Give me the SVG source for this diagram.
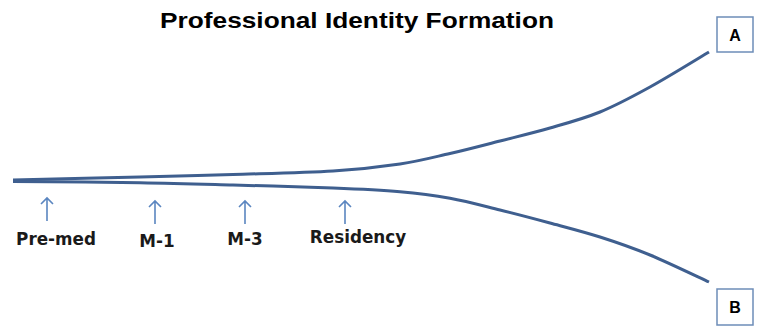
<svg xmlns="http://www.w3.org/2000/svg" width="759" height="327" viewBox="0 0 759 327">
<style>
.curve{fill:none;stroke:#3f5f8f;stroke-width:3;stroke-linecap:butt}
.arr{fill:none;stroke:#5b86c0;stroke-width:1.6}
.lbl{font-family:"DejaVu Sans",sans-serif;font-weight:bold;font-size:16.8px;fill:#1a1a1a;text-anchor:middle}
.box{fill:#fff;stroke:#6d8db8;stroke-width:1.5}
.bl{font-family:"Liberation Sans",Arial,sans-serif;font-weight:bold;font-size:16px;fill:#000;text-anchor:middle}
.title{font-family:"Liberation Sans",Arial,sans-serif;font-weight:bold;font-size:22.5px;fill:#000;text-anchor:middle}
</style>
<rect width="759" height="327" fill="#fff"/>
<text class="title" x="357" y="28" textLength="394" lengthAdjust="spacingAndGlyphs">Professional Identity Formation</text>
<g id="connectors">
<path class="curve" d="M13,180 C34.2,179.5 103.3,177.9 140,177 C176.7,176.1 200.8,175.5 233,174.5 C265.2,173.5 305.2,172.75 333,171 C360.8,169.25 380.5,166.9 400,164 C419.5,161.1 433.3,157.3 450,153.5 C466.7,149.7 483.3,145.25 500,141 C516.7,136.75 533.3,132.8 550,128 C566.7,123.2 583.3,118.8 600,112 C616.7,105.2 631.8,97 650,87 C668.2,77 699.2,57.8 709,52"/>
<path class="curve" d="M13,181.5 C34.2,181.7 103.3,182.1 140,182.7 C176.7,183.3 200.8,184.1 233,185 C265.2,185.9 305.2,186.9 333,188 C360.8,189.1 380.5,190 400,191.7 C419.5,193.4 433.3,195.25 450,198.3 C466.7,201.35 483.3,205.9 500,210 C516.7,214.1 533.3,218.5 550,223 C566.7,227.5 583.3,231.7 600,237 C616.7,242.3 631.8,247.5 650,255 C668.2,262.5 699.2,277.5 709,282"/>
<g class="arr">
<path d="M47,221 V198 M41,204 L47,198 L53,204"/>
<path d="M155,224 V201 M149,207 L155,201 L161,207"/>
<path d="M245,224 V201 M239,207 L245,201 L251,207"/>
<path d="M345,224 V201 M339,207 L345,201 L351,207"/>
</g>
</g>
<g id="premed"><text class="lbl" x="56" y="245">Pre-med</text></g>
<g id="m1"><text class="lbl" x="157" y="247">M-1</text></g>
<g id="m3"><text class="lbl" x="245" y="245">M-3</text></g>
<g id="residency"><text class="lbl" x="358" y="243">Residency</text></g>
<g id="nodeA"><rect class="box" x="717" y="17" width="36" height="35"/><text class="bl" x="735" y="41">A</text></g>
<g id="nodeB"><rect class="box" x="717" y="289" width="36" height="36"/><text class="bl" x="735" y="313">B</text></g>
</svg>
